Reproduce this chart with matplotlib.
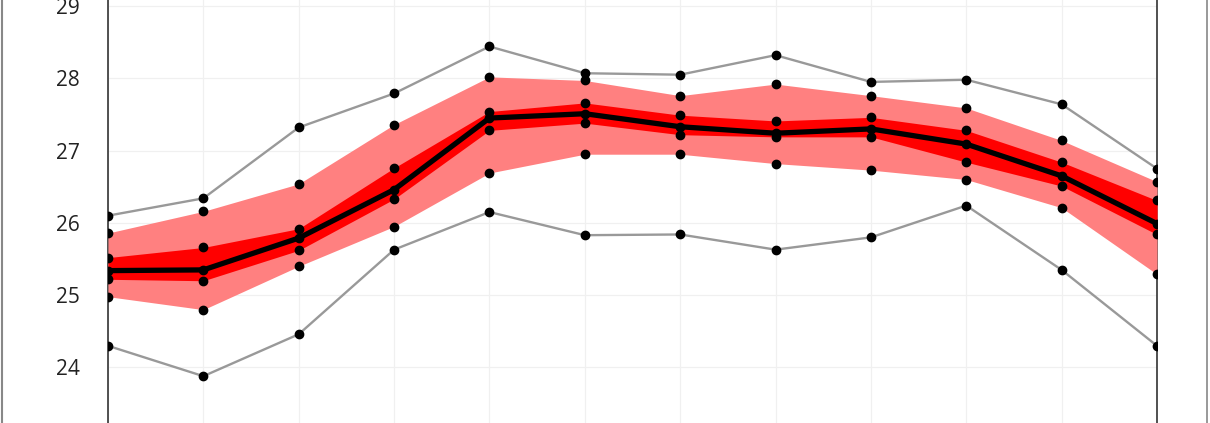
import matplotlib
matplotlib.use("Agg")
import matplotlib.pyplot as plt
from matplotlib.lines import Line2D

# 12 positions (months), one value per band edge
months = list(range(12))
max_vals = [26.10, 26.34, 27.32, 27.79, 28.44, 28.07, 28.05, 28.32, 27.95, 27.98, 27.64, 26.75]
light_hi = [25.86, 26.16, 26.54, 27.36, 28.02, 27.97, 27.76, 27.92, 27.76, 27.59, 27.14, 26.57]
dark_hi = [25.52, 25.66, 25.92, 26.76, 27.54, 27.66, 27.49, 27.41, 27.46, 27.28, 26.84, 26.31]
median = [25.34, 25.35, 25.79, 26.46, 27.45, 27.51, 27.33, 27.24, 27.30, 27.09, 26.65, 25.99]
dark_lo = [25.22, 25.20, 25.62, 26.33, 27.28, 27.38, 27.22, 27.19, 27.19, 26.84, 26.51, 25.84]
light_lo = [24.98, 24.80, 25.40, 25.95, 26.69, 26.95, 26.95, 26.82, 26.73, 26.60, 26.21, 25.29]
min_vals = [24.30, 23.88, 24.46, 25.63, 26.15, 25.83, 25.84, 25.63, 25.80, 26.24, 25.35, 24.30]
y_ticks = [24, 25, 26, 27, 28, 29]

plt.rcParams['font.family'] = ['Open Sans', 'DejaVu Sans']

fig = plt.figure(figsize=(12.1, 4.23), dpi=100)
ax = fig.add_axes([108 / 1210, 0, 1049 / 1210, 1])

ax.fill_between(months, light_lo, light_hi, color="#ff8080", linewidth=0, zorder=2)
ax.fill_between(months, dark_lo, dark_hi, color="#ff0000", linewidth=0, zorder=3)

ax.plot(months, max_vals, color="#999999", lw=1.7, zorder=4)
ax.plot(months, min_vals, color="#999999", lw=1.7, zorder=4)
ax.plot(months, median, color="black", lw=3.8, zorder=5)

for series in (max_vals, light_hi, dark_hi, median, dark_lo, light_lo, min_vals):
    ax.plot(months, series, linestyle="None", marker="o", markersize=6,
            color="black", zorder=6)

ax.set_xlim(0, 11)
ax.set_ylim(29 - 417 / 72.3, 29 + 6 / 72.3)
ax.set_yticks(y_ticks)
ax.set_yticklabels([str(t) for t in y_ticks], fontsize=15, color="#222222")
ax.set_xticks(months)
ax.tick_params(axis="y", length=0, pad=20)
ax.tick_params(axis="x", length=0, labelbottom=False)
ax.grid(True, color="#f0f0f0", linewidth=0.9, zorder=0)
ax.set_axisbelow(True)

for side in ("top", "bottom"):
    ax.spines[side].set_visible(False)
for side in ("left", "right"):
    ax.spines[side].set_color("#333333")
    ax.spines[side].set_linewidth(1.2)
    ax.spines[side].set_zorder(1)

# outer frame, only the sides are visible in the crop
fig.add_artist(Line2D([1.5 / 1210, 1.5 / 1210], [0, 1], color="#888888", lw=1.5,
                      transform=fig.transFigure))
fig.add_artist(Line2D([1207 / 1210, 1207 / 1210], [0, 1], color="#888888", lw=1.2,
                      transform=fig.transFigure))

fig.savefig("out.png", dpi=100)
